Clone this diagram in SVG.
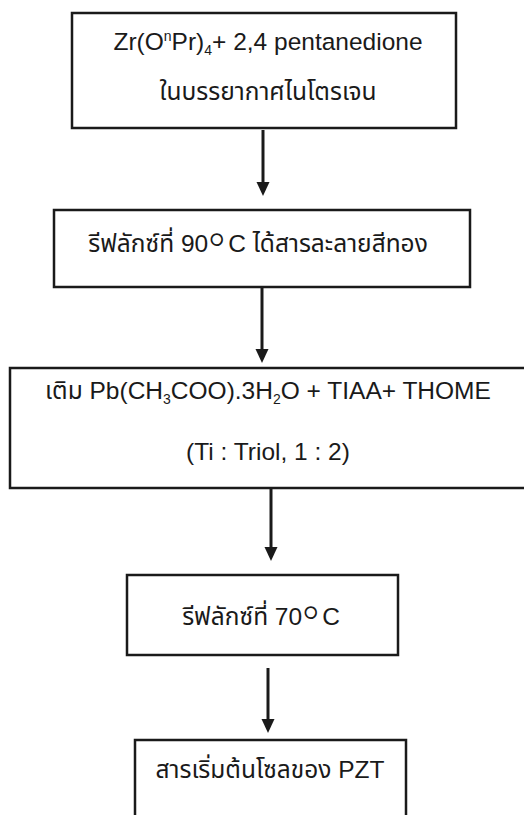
<svg xmlns="http://www.w3.org/2000/svg" width="524" height="815" viewBox="0 0 524 815">
<style>
.box{fill:none;stroke:#1a1a1a;stroke-width:2.5}
.t{font-family:"Liberation Sans",Arial,"Noto Sans Thai","Noto Sans","DejaVu Sans",sans-serif;font-size:24.5px;fill:#1a1a1a;text-anchor:middle}
.deg{font-family:"DejaVu Sans",sans-serif;font-weight:200;font-size:46px}
.conn line{stroke:#1a1a1a;stroke-width:3}
.conn path{fill:#1a1a1a}
</style>
<rect width="524" height="815" fill="#ffffff"/>
<g id="node1">
<rect class="box" x="72" y="13" width="384" height="115"/>
<text class="t" x="268" y="50">Zr(O<tspan font-size="14" dy="-9">n</tspan><tspan dy="9">Pr)</tspan><tspan font-size="14" dy="5">4</tspan><tspan dy="-5">+ 2,4 pentanedione</tspan></text>
<text class="t" x="268" y="100" font-size="25.5">ในบรรยากาศไนโตรเจน</text>
</g>
<g id="node2">
<rect class="box" x="54" y="210" width="416" height="77"/>
<text class="t" x="258" y="252">รีฟลักซ์ที่ 90<tspan class="deg" dx="-3" dy="15">°</tspan><tspan dy="-15">C ได้สารละลายสีทอง</tspan></text>
</g>
<g id="node3">
<rect class="box" x="10" y="368" width="530" height="120"/>
<text class="t" x="268" y="399">เติม Pb(CH<tspan font-size="14" dy="5">3</tspan><tspan dy="-5">COO).3H</tspan><tspan font-size="14" dy="5">2</tspan><tspan dy="-5">O + TIAA+ THOME</tspan></text>
<text class="t" x="268" y="460">(Ti : Triol, 1 : 2)</text>
</g>
<g id="node4">
<rect class="box" x="127" y="575" width="271" height="80"/>
<text class="t" x="261" y="625">รีฟลักซ์ที่ 70<tspan class="deg" dx="-3" dy="15">°</tspan><tspan dy="-15">C</tspan></text>
</g>
<g id="node5">
<rect class="box" x="135" y="740" width="271" height="100"/>
<text class="t" x="270" y="778">สารเริ่มต้นโซลของ PZT</text>
</g>
<g class="conn" id="connectors">
<line x1="263" y1="130" x2="263" y2="185"/>
<path d="M256.5,182 L269.5,182 L263,196 Z"/>
<line x1="262" y1="288" x2="262" y2="352"/>
<path d="M255.5,349 L268.5,349 L262,363 Z"/>
<line x1="271" y1="489" x2="271" y2="550"/>
<path d="M264.5,547 L277.5,547 L271,561 Z"/>
<line x1="268" y1="668" x2="268" y2="722"/>
<path d="M261.5,719 L274.5,719 L268,733 Z"/>
</g>
</svg>
